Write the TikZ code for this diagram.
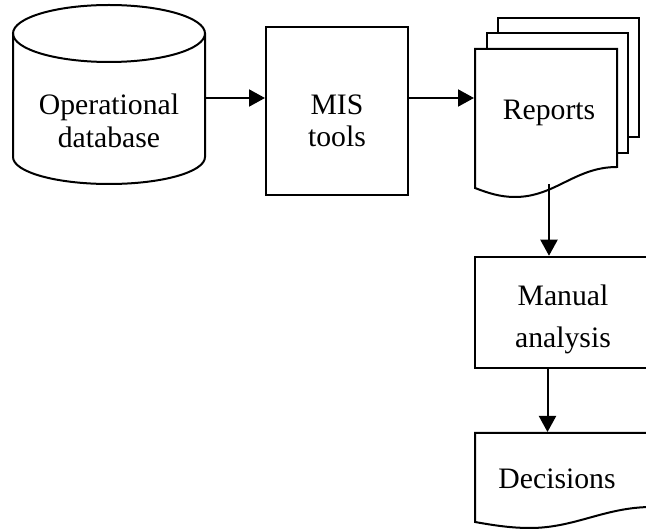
\documentclass[tikz,border=0pt]{standalone}
\usepackage{fontspec}
\setmainfont{Liberation Serif}
\usetikzlibrary{arrows.meta}
\begin{document}
\begin{tikzpicture}[x=1pt,y=-1pt,
  line width=2pt, line join=miter,
  arr/.style={-{Triangle[length=16pt,width=17pt]}},
  lbl/.style={font=\fontsize{29.7}{31}\selectfont, align=center, inner sep=0pt},
  frame/.style={draw=none, inner sep=0pt},
  boxed/.style={draw, inner sep=0pt},
  page/.style={draw, fill=white}]
\useasboundingbox (0,0) rectangle (646,529);
\clip (0,0) rectangle (646,529);
% cylinder (operational database)
\draw[fill=white] (13,33.5) -- (13,157) .. controls (13,172) and (56,184) .. (109,184)
  .. controls (162,184) and (205,172) .. (205,157) -- (205,33.5);
\draw (109,33.5) ellipse [x radius=96, y radius=28.5];
\node[frame, minimum width=192, minimum height=118] (db) at (109,98) {};
\node[lbl, font=\fontsize{29.7}{33.5}\selectfont] (dbl) at (109,121) {Operational\\database};
% MIS tools
\node[boxed, minimum width=142, minimum height=168] (mis) at (337,111) {};
\node[lbl, font=\fontsize{29.7}{32.5}\selectfont] (misl) at (337,121) {MIS\\tools};
% Reports (stack of documents)
\draw[page] (498,18) rectangle (639,137);
\draw[page] (487,33) rectangle (628,153);
\draw[page] (475,49) -- (617,49) -- (617,167)
  .. controls (575,167) and (555,197) .. (515,197)
  .. controls (500,197) and (488,193) .. (475,188) -- cycle;
\node[frame, minimum width=142, minimum height=139] (rep) at (546,118.5) {};
\node[lbl, anchor=base] (repl) at (549,120) {Reports};
\coordinate (repw) at (549,184.5);
% Manual analysis
\node[boxed, minimum width=177, minimum height=111.5] (man) at (563.5,312.5) {};
\node[lbl, font=\fontsize{29.7}{42}\selectfont] (manl) at (563,319) {Manual\\analysis};
% Decisions
\draw[page] (475,433) -- (652,433) -- (652,507)
  .. controls (605,507) and (575,528) .. (530,528)
  .. controls (510,528) and (492,525) .. (475,522) -- cycle;
\node[frame, minimum width=177, minimum height=89] (dec) at (563.5,477.5) {};
\node[lbl, anchor=base] (decl) at (557,489) {Decisions};
% connectors
\draw[arr] (db.east) -- (db.east -| mis.west);
\draw[arr] (mis.east |- db.east) -- (db.east -| rep.west);
\draw[arr] (repw) -- (repw |- man.north);
\draw[arr] ([xshift=-16pt]man.south) -- ([xshift=-16pt]man.south |- dec.north);
\end{tikzpicture}
\end{document}
